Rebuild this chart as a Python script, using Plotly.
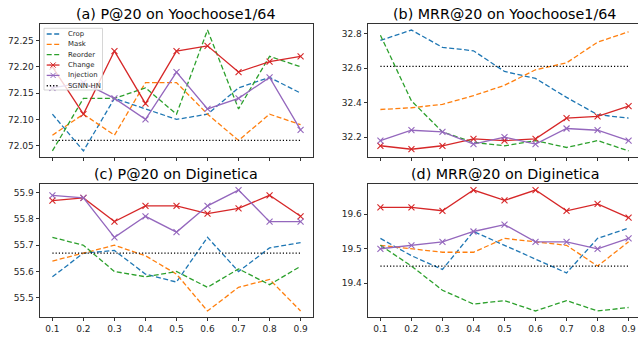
import plotly.graph_objects as go

W, H = 638, 337

xs = [0.1, 0.2, 0.3, 0.4, 0.5, 0.6, 0.7, 0.8, 0.9]
x_ticklabels = ["0.1", "0.2", "0.3", "0.4", "0.5", "0.6", "0.7", "0.8", "0.9"]

series_names = ["Crop", "Mask", "Reorder", "Change", "Injection"]
baseline_name = "SGNN-HN"

# (a) P@20 on Yoochoose1/64
a_crop = [72.11, 72.04, 72.14, 72.12, 72.10, 72.11, 72.16, 72.18, 72.15]
a_mask = [72.07, 72.11, 72.07, 72.17, 72.17, 72.11, 72.06, 72.11, 72.09]
a_reorder = [72.04, 72.14, 72.14, 72.16, 72.11, 72.27, 72.12, 72.22, 72.20]
a_change = [72.20, 72.11, 72.23, 72.13, 72.23, 72.24, 72.19, 72.21, 72.22]
a_injection = [72.16, 72.17, 72.14, 72.10, 72.19, 72.12, 72.14, 72.18, 72.08]
a_base = 72.06

# (b) MRR@20 on Yoochoose1/64
b_crop = [32.76, 32.82, 32.72, 32.70, 32.58, 32.54, 32.43, 32.33, 32.31]
b_mask = [32.36, 32.37, 32.39, 32.44, 32.50, 32.59, 32.63, 32.75, 32.81]
b_reorder = [32.79, 32.41, 32.23, 32.17, 32.15, 32.18, 32.14, 32.18, 32.12]
b_change = [32.15, 32.13, 32.15, 32.19, 32.18, 32.19, 32.31, 32.32, 32.38]
b_injection = [32.18, 32.24, 32.23, 32.16, 32.20, 32.16, 32.25, 32.24, 32.18]
b_base = 32.61

# (c) P@20 on Diginetica
c_crop = [55.58, 55.67, 55.68, 55.59, 55.56, 55.73, 55.60, 55.69, 55.71]
c_mask = [55.64, 55.67, 55.70, 55.66, 55.59, 55.45, 55.54, 55.57, 55.45]
c_reorder = [55.73, 55.70, 55.60, 55.58, 55.60, 55.54, 55.61, 55.55, 55.62]
c_change = [55.87, 55.88, 55.79, 55.85, 55.85, 55.82, 55.84, 55.89, 55.81]
c_injection = [55.89, 55.88, 55.73, 55.81, 55.75, 55.85, 55.91, 55.79, 55.79]
c_base = 55.67

# (d) MRR@20 on Diginetica
d_crop = [19.53, 19.48, 19.44, 19.55, 19.51, 19.47, 19.43, 19.53, 19.56]
d_mask = [19.51, 19.50, 19.49, 19.49, 19.53, 19.52, 19.51, 19.45, 19.52]
d_reorder = [19.51, 19.45, 19.38, 19.34, 19.35, 19.32, 19.35, 19.32, 19.33]
d_change = [19.62, 19.62, 19.61, 19.67, 19.64, 19.67, 19.61, 19.63, 19.59]
d_injection = [19.50, 19.51, 19.52, 19.55, 19.57, 19.52, 19.52, 19.50, 19.53]
d_base = 19.45

titles = ["(a) P@20 on Yoochoose1/64", "(b) MRR@20 on Yoochoose1/64",
          "(c) P@20 on Diginetica", "(d) MRR@20 on Diginetica"]
yticks = [
    [72.05, 72.10, 72.15, 72.20, 72.25],
    [32.2, 32.4, 32.6, 32.8],
    [55.5, 55.6, 55.7, 55.8, 55.9],
    [19.4, 19.5, 19.6],
]
ytickfmt = [".2f", ".1f", ".1f", ".1f"]

panels = [
    [a_crop, a_mask, a_reorder, a_change, a_injection, a_base],
    [b_crop, b_mask, b_reorder, b_change, b_injection, b_base],
    [c_crop, c_mask, c_reorder, c_change, c_injection, c_base],
    [d_crop, d_mask, d_reorder, d_change, d_injection, d_base],
]

colors = ["#1f77b4", "#ff7f0e", "#2ca02c", "#d62728", "#9467bd"]
FONT = "DejaVu Sans"
LW = 1.3
DASH = "5px,2.5px"
DOT = "1.2px,2px"

def px_x(p):
    return p / W

def px_y(p):
    return 1 - p / H

# axes placement in pixels (left, right, top, bottom)
boxes = [
    (40, 313, 24, 157),
    (368, 638, 24, 157),
    (40, 313, 184, 317),
    (368, 638, 184, 317),
]
full_w = 273.0

fig = go.Figure()
layout = dict(
    width=W, height=H, margin=dict(l=0, r=0, t=0, b=0),
    paper_bgcolor="white", plot_bgcolor="white", showlegend=False,
    font=dict(family=FONT, color="#262626"),
)
annotations = []
shapes = []

for i, (vals, box) in enumerate(zip(panels, boxes)):
    n = i + 1
    xa = "x" if n == 1 else f"x{n}"
    ya = "y" if n == 1 else f"y{n}"
    for j in range(5):
        is_marker = j >= 3
        fig.add_trace(go.Scatter(
            x=xs, y=vals[j], xaxis=xa, yaxis=ya, name=series_names[j],
            mode="lines+markers" if is_marker else "lines",
            line=dict(color=colors[j], width=LW, dash="solid" if is_marker else DASH),
            marker=dict(symbol="x-thin", size=6, line=dict(color=colors[j], width=1.1)),
        ))
    base = vals[5]
    fig.add_trace(go.Scatter(
        x=[xs[0], xs[-1]], y=[base, base], xaxis=xa, yaxis=ya, name=baseline_name,
        mode="lines", line=dict(color="black", width=1.3, dash=DOT),
    ))
    all_vals = [v for s in vals[:5] for v in s] + [base]
    lo, hi = min(all_vals), max(all_vals)
    m = (hi - lo) * 0.05
    l, r, t, b = box
    xlo, xhi = xs[0] - 0.04, xs[-1] + 0.04
    xhi_vis = xlo + (r - l) / full_w * (xhi - xlo)
    axkey = "xaxis" if n == 1 else f"xaxis{n}"
    aykey = "yaxis" if n == 1 else f"yaxis{n}"
    layout[axkey] = dict(
        domain=[px_x(l), px_x(r)], range=[xlo, xhi_vis], anchor=ya,
        tickvals=xs, ticktext=x_ticklabels, showticklabels=(n >= 3),
        ticks="outside", ticklen=3.5, tickwidth=0.9, tickcolor="#333",
        showline=True, linecolor="#333", linewidth=0.9, mirror=True,
        showgrid=False, zeroline=False,
        tickfont=dict(family=FONT, size=9, color="#262626"),
    )
    layout[aykey] = dict(
        domain=[px_y(b), px_y(t)], range=[lo - m, hi + m], anchor=xa,
        tickvals=yticks[i], tickformat=ytickfmt[i],
        ticks="outside", ticklen=3.5, tickwidth=0.9, tickcolor="#333",
        showline=True, linecolor="#333", linewidth=0.9, mirror=(n in (1, 3)),
        showgrid=False, zeroline=False,
        tickfont=dict(family=FONT, size=9, color="#262626"),
    )
    annotations.append(dict(
        text=titles[i], xref="paper", yref="paper",
        x=px_x((l + l + full_w) / 2), y=px_y(t - 9.5),
        xanchor="center", yanchor="middle", showarrow=False,
        font=dict(family=FONT, size=14.3, color="black"),
    ))

# legend (inside panel a, upper left)
lx0, lx1, ly0, ly1 = 44, 102.5, 28.3, 90
shapes.append(dict(type="rect", xref="paper", yref="paper",
                   x0=px_x(lx0), x1=px_x(lx1), y0=px_y(ly1), y1=px_y(ly0),
                   line=dict(color="#cccccc", width=0.8), fillcolor="rgba(255,255,255,0.8)",
                   layer="above"))
leg_names = series_names + [baseline_name]
leg_colors = colors + ["black"]
for k, nm in enumerate(leg_names):
    yc = 34.0 + k * 10.35
    if k < 3:
        dash = DASH
    elif k < 5:
        dash = "solid"
    else:
        dash = DOT
    shapes.append(dict(type="line", xref="paper", yref="paper",
                       x0=px_x(46.7), x1=px_x(59.5), y0=px_y(yc), y1=px_y(yc),
                       line=dict(color=leg_colors[k], width=LW, dash=dash),
                       layer="above"))
    if 3 <= k < 5:
        cx, s = 53.1, 2.6
        for dy in (-1, 1):
            shapes.append(dict(type="line", xref="paper", yref="paper",
                               x0=px_x(cx - s), x1=px_x(cx + s),
                               y0=px_y(yc - s * dy), y1=px_y(yc + s * dy),
                               line=dict(color=leg_colors[k], width=1.0), layer="above"))
    annotations.append(dict(
        text=nm, xref="paper", yref="paper", x=px_x(66.2), y=px_y(yc),
        xanchor="left", yanchor="middle", showarrow=False,
        font=dict(family=FONT, size=6.9, color="#262626"),
    ))

layout["annotations"] = annotations
layout["shapes"] = shapes
fig.update_layout(**layout)
fig.write_html("out.html", post_script="document.body.style.margin='0';",
               config={"displayModeBar": False})
